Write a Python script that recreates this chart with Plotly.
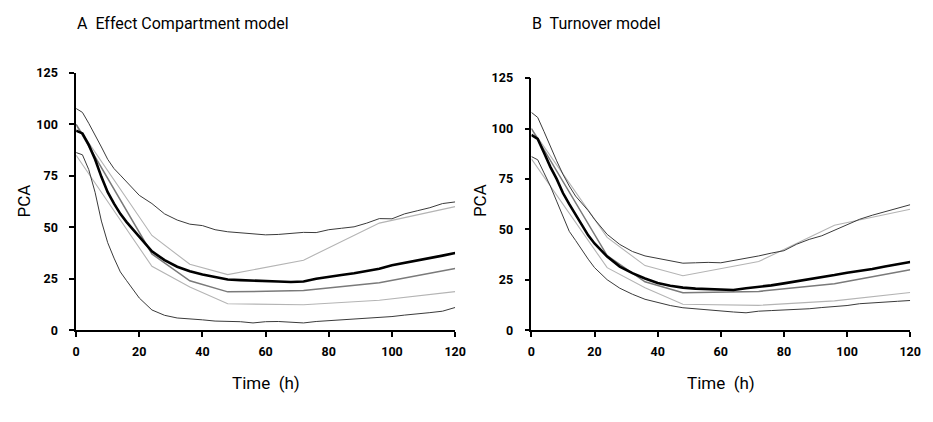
import plotly.graph_objects as go

# ---------------- data ----------------
t_sim = [0, 2, 4, 6, 8, 10, 12, 14, 16, 18, 20, 24, 28, 32, 36, 40, 44, 48, 52, 56,
         60, 64, 68, 72, 76, 80, 84, 88, 92, 96, 100, 104, 108, 112, 116, 120]

# Panel A: Effect Compartment model (simulated percentiles)
a_p95 = [107.7, 105.8, 100.5, 95, 89, 83, 78.5, 75.3, 72, 68.5, 65.5, 61.5, 56.5, 53.5, 51.5, 50.8,
         48.8, 47.8, 47.4, 46.9, 46.3, 46.5, 46.9, 47.5, 47.4, 48.8, 49.5, 50.2, 52, 54.2,
         54.1, 56.5, 58, 59.5, 61.5, 62.3]
a_p50 = [96.9, 95.6, 90, 83, 74.5, 67, 61.5, 56.5, 52.5, 49, 45.2, 38.3, 34, 30.8, 28.6, 27,
         25.8, 24.6, 24.3, 24, 23.6, 23.6, 23.4, 23.6, 25, 26, 26.8, 27.6, 28.6, 29.8,
         31.5, 32.6, 33.8, 35, 36.2, 37.5]
a_p05 = [86.3, 85.2, 78, 67, 53, 42.5, 35, 28.3, 24, 19.8, 15.6, 9.8, 7.2, 5.9, 5.6, 5,
         4.4, 4.4, 4.1, 3.5, 4.1, 4.2, 3.9, 3.5, 4.2, 4.6, 5, 5.3, 5.5, 6,
         6.6, 7.3, 7.8, 8.5, 9.2, 11]

# Panel B: Turnover model (simulated percentiles)
b_p95 = [108, 105.5, 98.5, 91, 84, 77.3, 71.5, 66.5, 63, 59.3, 55, 47.5, 42.5, 39, 36.8, 35.5,
         34.3, 33.2, 33.4, 33.6, 33.4, 34.5, 35.6, 36.8, 38.2, 39.4, 42.6, 45, 46.8, 49.5,
         52.5, 55, 57, 58.8, 60.5, 62.2]
b_p50 = [96.8, 94.8, 88, 81, 75, 68, 62.5, 57.5, 52.5, 47, 43, 36.5, 31.5, 28.3, 25.6, 23.4,
         22, 21.1, 20.6, 20.3, 20.1, 19.9, 20.8, 21.4, 22.2, 23.2, 24.2, 25, 26.2, 27.3,
         28.5, 29.3, 30.3, 31.6, 32.7, 33.8]
b_p05 = [86.1, 84.5, 78, 71.5, 64, 56, 49, 44.5, 39.5, 35.2, 31, 25, 20.8, 17.8, 15.3, 13.8,
         12.2, 11.1, 10.5, 9.9, 9.6, 9, 8.6, 9.4, 9.7, 10, 10.2, 10.6, 11.2, 11.7,
         12.2, 13.1, 13.6, 14.1, 14.3, 14.7]

# Observed percentiles (same in both panels)
t_obs = [0, 24, 36, 48, 72, 96, 120]
obs_hi = [100, 46, 32, 27, 34, 52, 60]
obs_med = [100, 37, 24, 18.6, 19.2, 23, 30]
obs_lo = [85, 31, 21, 12.8, 12.3, 14.5, 18.7]

x_ticks = [0, 20, 40, 60, 80, 100, 120]
y_ticks = [0, 25, 50, 75, 100, 125]

titles = ["A  Effect Compartment model", "B  Turnover model"]

FONT = "Roboto"

# ---------------- figure ----------------
fig = go.Figure()

W, H = 933, 422
panels = [
    dict(sim=(a_p95, a_p50, a_p05), x0=73.3, x1=458.5, ytop=67.3, xa="x", ya="y"),
    dict(sim=(b_p95, b_p50, b_p05), x0=536.0, x1=921.0, ytop=72.7, xa="x2", ya="y2"),
]
ybot = 334.0

for i, p in enumerate(panels):
    xa, ya = p["xa"], p["ya"]
    fig.add_trace(go.Scatter(x=t_obs, y=obs_hi, mode="lines", xaxis=xa, yaxis=ya,
                             line=dict(color="#b4b4b4", width=1.1), showlegend=False, hoverinfo="skip"))
    fig.add_trace(go.Scatter(x=t_obs, y=obs_lo, mode="lines", xaxis=xa, yaxis=ya,
                             line=dict(color="#b4b4b4", width=1.1), showlegend=False, hoverinfo="skip"))
    fig.add_trace(go.Scatter(x=t_obs, y=obs_med, mode="lines", xaxis=xa, yaxis=ya,
                             line=dict(color="#7a7a7a", width=1.5), showlegend=False, hoverinfo="skip"))
    hi, med, lo = p["sim"]
    fig.add_trace(go.Scatter(x=t_sim, y=hi, mode="lines", xaxis=xa, yaxis=ya,
                             line=dict(color="#3a3a3a", width=1), showlegend=False, hoverinfo="skip"))
    fig.add_trace(go.Scatter(x=t_sim, y=lo, mode="lines", xaxis=xa, yaxis=ya,
                             line=dict(color="#3a3a3a", width=1), showlegend=False, hoverinfo="skip"))
    fig.add_trace(go.Scatter(x=t_sim, y=med, mode="lines", xaxis=xa, yaxis=ya,
                             line=dict(color="#000000", width=2.6), showlegend=False, hoverinfo="skip"))

axis_common = dict(showgrid=False, zeroline=False, showline=True, linecolor="black",
                   linewidth=1.5, ticks="outside", ticklen=5, tickwidth=1.5, tickcolor="black",
                   tickfont=dict(family=FONT, size=12.5, color="black", weight="bold"))

layout = dict(width=W, height=H, margin=dict(l=0, r=0, t=0, b=0),
              paper_bgcolor="white", plot_bgcolor="white", showlegend=False)

for i, p in enumerate(panels):
    sfx = "" if i == 0 else str(i + 1)
    layout["xaxis" + sfx] = dict(axis_common, domain=[p["x0"] / W, p["x1"] / W], range=[0, 120],
                                 tickvals=x_ticks, anchor="y" + sfx, ticklabelstandoff=4)
    layout["yaxis" + sfx] = dict(axis_common, domain=[(H - ybot) / H, (H - p["ytop"]) / H],
                                 range=[0, 125], tickvals=y_ticks, anchor="x" + sfx,
                                 ticklabelstandoff=9)

fig.update_layout(**layout)
fig.update_traces(cliponaxis=False)

ann = []
title_x = [72, 535]
plab_x = [20, 484]
for i, p in enumerate(panels):
    ann.append(dict(text=titles[i], x=title_x[i] / W, y=1 - 16 / H, xref="paper", yref="paper",
                    xanchor="left", yanchor="middle", showarrow=False,
                    font=dict(family=FONT, size=16, color="black")))
    ann.append(dict(text="PCA", x=plab_x[i] / W, y=1 - 200 / H, xref="paper", yref="paper",
                    xanchor="center", yanchor="middle", showarrow=False, textangle=-90,
                    font=dict(family=FONT, size=17, color="black")))
    ann.append(dict(text="Time  (h)", x=((p["x0"] + p["x1"]) / 2) / W, y=1 - 389 / H,
                    xref="paper", yref="paper", xanchor="center", yanchor="middle",
                    showarrow=False, font=dict(family=FONT, size=17, color="black")))
fig.update_layout(annotations=ann)

fig.write_html("out.html")
